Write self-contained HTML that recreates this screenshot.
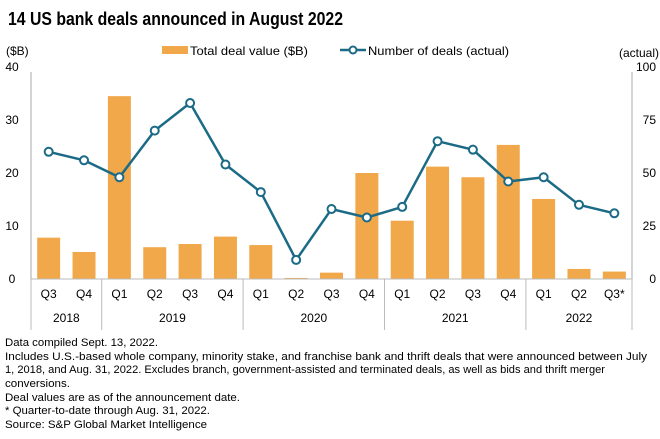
<!DOCTYPE html>
<html><head><meta charset="utf-8"><style>
body{margin:0;background:#fff;}
svg{display:block;font-family:"Liberation Sans",sans-serif;}
</style></head><body>
<svg id="chart" width="660" height="439" viewBox="0 0 660 439">
<text x="8" y="25" font-size="18" font-weight="bold" fill="#000" textLength="335" lengthAdjust="spacingAndGlyphs">14 US bank deals announced in August 2022</text>
<text x="6" y="55" font-size="12">($B)</text>
<text x="659" y="57" font-size="12" text-anchor="end">(actual)</text>
<g>
<rect x="162" y="46" width="26" height="8" fill="#F0A84A"/>
<text x="190" y="55" font-size="12" textLength="118" lengthAdjust="spacingAndGlyphs">Total deal value ($B)</text>
<line x1="340" y1="50" x2="366" y2="50" stroke="#1B6A86" stroke-width="2.5"/>
<circle cx="353" cy="50" r="3.5" fill="#fff" stroke="#1B6A86" stroke-width="2"/>
<text x="368" y="55" font-size="12" textLength="141" lengthAdjust="spacingAndGlyphs">Number of deals (actual)</text>
</g>
<g id="plot"></g>
<g font-size="11" fill="#000">
<text x="5" y="346" textLength="153" lengthAdjust="spacingAndGlyphs">Data compiled Sept. 13, 2022.</text>
<text x="5" y="360" textLength="642" lengthAdjust="spacingAndGlyphs">Includes U.S.-based whole company, minority stake, and franchise bank and thrift deals that were announced between July</text>
<text x="5" y="373" textLength="600" lengthAdjust="spacingAndGlyphs">1, 2018, and Aug. 31, 2022. Excludes branch, government-assisted and terminated deals, as well as bids and thrift merger</text>
<text x="5" y="387" textLength="65" lengthAdjust="spacingAndGlyphs">conversions.</text>
<text x="5" y="401" textLength="235" lengthAdjust="spacingAndGlyphs">Deal values are as of the announcement date.</text>
<text x="5" y="414" textLength="205" lengthAdjust="spacingAndGlyphs">* Quarter-to-date through Aug. 31, 2022.</text>
<text x="5" y="428" textLength="202" lengthAdjust="spacingAndGlyphs">Source: S&amp;P Global Market Intelligence</text>
</g>
</svg>
<script>
const quarters=["Q3","Q4","Q1","Q2","Q3","Q4","Q1","Q2","Q3","Q4","Q1","Q2","Q3","Q4","Q1","Q2","Q3*"];
const dealValues=[7.8,5.1,34.5,6.0,6.6,8.0,6.4,0.2,1.2,20.0,11.0,21.2,19.2,25.3,15.1,1.9,1.4];
const dealCounts=[60,56,48,70,83,54,41,9,33,29,34,65,61,46,48,35,31];
const years=["2018","2019","2020","2021","2022"];
const yearSpans=[2,4,4,4,3];
const leftTicks=[0,10,20,30,40];
const rightTicks=[0,25,50,75,100];

const NS="http://www.w3.org/2000/svg";
const g=document.getElementById('plot');
const X0=31,X1=632,Y0=279,Y1=67;
const step=(X1-X0)/quarters.length;
const xc=i=>X0+step*(i+0.5);
const yL=v=>Y0-(v/40)*(Y0-Y1);
const yR=v=>Y0-(v/100)*(Y0-Y1);
function mk(t,a,txt){const e=document.createElementNS(NS,t);for(const k in a)e.setAttribute(k,a[k]);if(txt!=null)e.textContent=txt;g.appendChild(e);return e;}

leftTicks.forEach(v=>{
const t=mk('text',{x:12,y:yL(v)+4,'font-size':12,'text-anchor':'middle'},String(v));


});
rightTicks.forEach(v=>{
const t=mk('text',{x:656,y:yR(v)+4,'font-size':12,'text-anchor':'end'},String(v));


});
dealValues.forEach((v,i)=>{
const r=mk('rect',{x:xc(i)-11.5,y:yL(v),width:23,height:Y0-yL(v),fill:'#F0A84A'});


});
const a1=mk('line',{x1:X0,y1:Y1+5,x2:X0,y2:Y0,stroke:'#aaa'});


const a2=mk('line',{x1:X1,y1:Y1+5,x2:X1,y2:Y0,stroke:'#aaa'});


const base=mk('line',{x1:X0,y1:Y0,x2:X1,y2:Y0,stroke:'#bbb'});


const pts=dealCounts.map((v,i)=>xc(i)+','+yR(v)).join(' ');
const pl=mk('polyline',{points:pts,fill:'none',stroke:'#1B6A86','stroke-width':2.5,'stroke-linejoin':'round'});


dealCounts.forEach((v,i)=>{
const c=mk('circle',{cx:xc(i),cy:yR(v),r:4,fill:'#fff',stroke:'#1B6A86','stroke-width':2});


});
quarters.forEach((q,i)=>{
const t=mk('text',{x:xc(i),y:298,'font-size':12,'text-anchor':'middle'},q);


});
let idx=0;
const d0=mk('line',{x1:X0,y1:Y0,x2:X0,y2:330,stroke:'#bbb'});


years.forEach((y,k)=>{
const s=idx,e=idx+yearSpans[k];
const t=mk('text',{x:(X0+step*s+X0+step*e)/2,y:322,'font-size':12,'text-anchor':'middle'},y);


const d=mk('line',{x1:X0+step*e,y1:Y0,x2:X0+step*e,y2:330,stroke:'#bbb'});


idx=e;
});
</script>
</body></html>
